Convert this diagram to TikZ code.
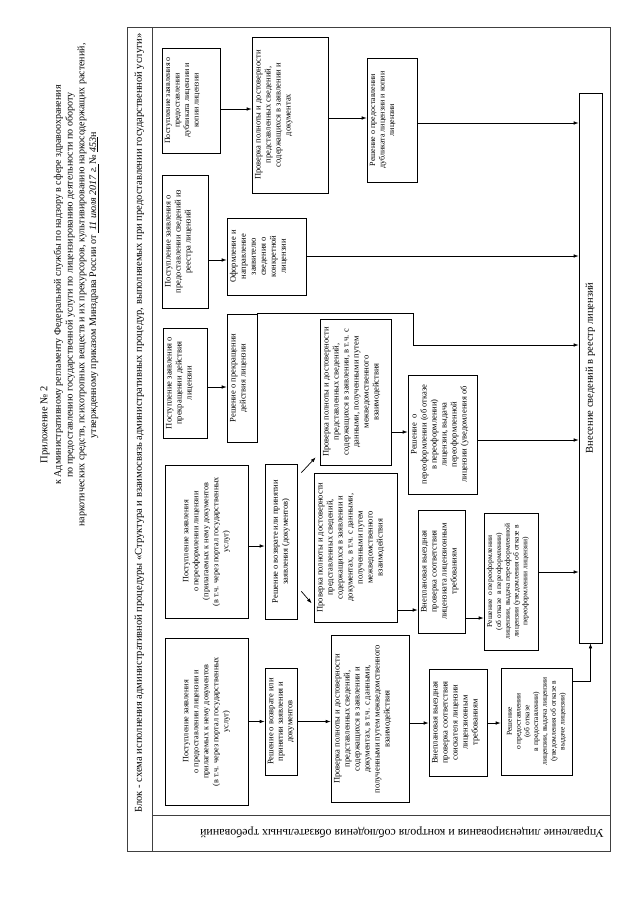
\documentclass[tikz,border=0pt]{standalone}
\usepackage{fontspec}
\setmainfont{Liberation Serif}
\usetikzlibrary{arrows.meta}
\newcommand\bxt[4][3pt]{\parbox[c][#3pt][t]{#2pt}{\centering\vspace*{#1}#4\par}}
\newcommand\bxc[3]{\parbox[c][#2pt][c]{#1pt}{\centering #3\par}}
\tikzset{
  box/.style={draw, line width=0.7pt, inner sep=0pt, rotate=90, font=\fontsize{8.5}{10}\selectfont},
  sbox/.style={box, font=\fontsize{7.5}{8.8}\selectfont},
  arr/.style={line width=0.7pt, -{Latex[length=5pt,width=3.6pt]}},
  frm/.style={draw=black!75, line width=0.6pt},
}
\begin{document}
\begin{tikzpicture}[x=1pt,y=-1pt]
\useasboundingbox (0,0) rectangle (640,905);
% header
\node[rotate=90, font=\fontsize{10.5}{12}\selectfont] (hdr1) at (45,425) {Приложение № 2};
\node[rotate=90, align=center, font=\fontsize{10}{11.8}\selectfont] (hdr2) at (76,285)
 {к Административному регламенту Федеральной службы по надзору в сфере здравоохранения\\
  по предоставлению государственной услуги по лицензированию деятельности по обороту\\
  наркотических средств, психотропных веществ и их прекурсоров, культивированию наркосодержащих растений,\\
  утвержденному приказом Минздрава России от \underline{\itshape\ 11 июля 2017 г.\ }№ \underline{\itshape 453}н};
% frame
\draw[frm] (127,27) rectangle (610,851);
\draw[frm] (152,27) -- (152,851);
\draw[frm] (152,815) -- (610,815);
\node[rotate=90, font=\fontsize{10.5}{12}\selectfont] (title) at (139.5,423)
 {Блок - схема исполнения административной процедуры «Структура и взаимосвязь административных процедур, выполняемых при предоставлении государственной услуги»};
\node[rotate=180, font=\fontsize{12}{14}\selectfont] (dept) at (402,833)
 {Управление лицензирования и контроля соблюдения обязательных требований};
% column 1
\node[box, font=\fontsize{8.2}{10}\selectfont] (B1a) at (206.5,721.5) {\bxc{167}{83}{Поступление заявления\\ о предоставлении лицензии и\\ прилагаемых к нему документов\\ (в т.ч. через портал государственных\\ услуг)}};
\node[box, font=\fontsize{8.5}{9.5}\selectfont] (B1b) at (281,721.5) {\bxc{107}{32}{Решение о возврате или\\ принятии заявления и\\ документов}};
\node[box] (B1c) at (370,719) {\bxt{167}{78}{Проверка полноты и достоверности\\ представленных сведений,\\ содержащихся в заявлении и\\ документах, в т.ч. с данными,\\ полученными путем межведомственного\\ взаимодействия}};
\node[box] (B1d) at (458,722.5) {\bxt{107}{58}{Внеплановая выездная\\ проверка соответствия\\ соискателя лицензии\\ лицензионным\\ требованиям}};
\node[sbox] (B1e) at (536.5,721.5) {\bxc{107}{71}{Решение\\ о предоставлении\\ (об отказе\\ в предоставлении)\\ лицензии, выдача лицензии\\ (уведомления об отказе в\\ выдаче лицензии)}};
% column 2
\node[box, font=\fontsize{8.2}{10}\selectfont] (B2a) at (206.5,541.5) {\bxc{153}{83}{Поступление заявления\\ о переоформлении лицензии\\ (прилагаемых к нему документов\\ (в т.ч. через портал государственных\\ услуг)}};
\node[box] (B2b) at (281,541.5) {\bxc{155}{32}{Решение о возврате или принятии\\ заявления (документов)}};
\node[box] (B2cl) at (355.5,547.5) {\bxt{149}{83}{Проверка полноты и достоверности\\ представленных сведений,\\ содержащихся в заявлении и\\ документах, в т.ч. с данными,\\ полученными путем\\ межведомственного\\ взаимодействия}};
\node[box] (B2cu) at (355.5,392) {\bxt{146}{71}{Проверка полноты и достоверности\\ представленных сведений,\\ содержащихся в заявлении, в т.ч. с\\ данными, полученными путем\\ межведомственного\\ взаимодействия}};
\node[box] (B2d) at (441.5,571.5) {\bxt{123}{47}{Внеплановая выездная\\ проверка соответствия\\ лицензиата лицензионным\\ требованиям}};
\node[sbox] (B2e) at (511,581.5) {\bxt{137}{54}{Решение\ \ о переоформлении\\ (об отказе\ \ в переоформлении)\\ лицензии, выдача переоформленной\\ лицензии (уведомления об отказе в\\ переоформлении лицензии)}};
\node[box] (B2dp) at (442.5,434.5) {\bxt{119}{69}{Решение\ \ о\\ переоформлении (об отказе\\ в переоформлении)\\ лицензии, выдача\\ переоформленной\\ лицензии (уведомления об}};
% column 3
\node[box] (B3a) at (185,383) {\bxt{110}{44}{Поступление заявления о\\ прекращении действия\\ лицензии}};
\node[box] (B3b) at (242,378) {\bxt{128}{30}{Решение о прекращении\\ действия лицензии}};
% column 4
\node[box] (B4a) at (185,241.5) {\bxt{133}{46}{Поступление заявления о\\ предоставлении сведений из\\ реестра лицензий}};
\node[box] (B4b) at (266.5,256.5) {\bxt{77}{79}{Оформление и\\ направление\\ заявителю\\ сведения о\\ конкретной\\ лицензии}};
% column 5
\node[box, font=\fontsize{8}{9.5}\selectfont] (B5a) at (191,100.5) {\bxt{105}{58}{Поступление заявления о\\ предоставлении\\ дубликата лицензии и\\ копии лицензии}};
\node[box] (B5b) at (290,115) {\bxt{156}{76}{Проверка полноты и достоверности\\ представленных сведений,\\ содержащихся в заявлении и\\ документах}};
\node[box, font=\fontsize{8}{9.5}\selectfont] (B5c) at (392,120) {\bxt{124}{50}{Решение о предоставлении\\ дубликата лицензии и копии\\ лицензии}};
% register
\node[box, font=\fontsize{10.5}{12}\selectfont] (reg) at (590.5,368) {\bxc{550}{23}{Внесение сведений в реестр лицензий}};
% connectors column 1
\draw[arr] (B1a.south) -- (B1a.south -| B1b.north);
\draw[arr] (B1b.south) -- (B1b.south -| B1c.north);
\draw[arr] (B1c.south |- 0,723) -- (B1d.north |- 0,723);
\draw[arr] (B1d.south |- 0,723) -- (B1e.north |- 0,723);
\draw[arr] ([yshift=-14pt]B1e.south east) -| (reg.west);
% connectors column 2
\draw[arr] (B2a.south |- 0,546) -- (B2b.north |- 0,546);
\draw[arr] ([shift={(4pt,-9pt)}]B2b.south east) -- ([shift={(-4pt,8pt)}]B2cu.north west);
\draw[arr] ([shift={(4pt,28pt)}]B2b.south west) -- ([shift={(-2pt,19pt)}]B2cl.north west);
\draw[arr] (B2cl.south |- 0,610) -- (B2d.north |- 0,610);
\draw[arr] (B2d.south |- 0,618) -- (B2e.north |- 0,618);
\draw[arr] (B2e.south |- 0,572) -- (reg.north |- 0,572);
\draw[arr] (B2cu.south |- 0,432) -- (B2dp.north |- 0,432);
\draw[arr] (B2dp.south |- 0,440) -- (reg.north |- 0,440);
% connectors column 3
\draw[arr] (B3a.south |- 0,387) -- (B3b.north |- 0,387);
\coordinate (j1) at (413,345);
\draw[arr] (B3b.south east) -| (j1) -- (reg.north |- j1);
% connectors column 4
\draw[arr] (B4a.south |- 0,260) -- (B4b.north |- 0,260);
\draw[arr] (B4b.south |- 0,256) -- (reg.north |- 0,256);
% connectors column 5
\draw[arr] (B5a.south |- 0,109) -- (B5b.north |- 0,109);
\draw[arr] (B5b.south |- 0,118) -- (B5c.north |- 0,118);
\draw[arr] (B5c.south |- 0,123) -- (reg.north |- 0,123);
\end{tikzpicture}
\end{document}
